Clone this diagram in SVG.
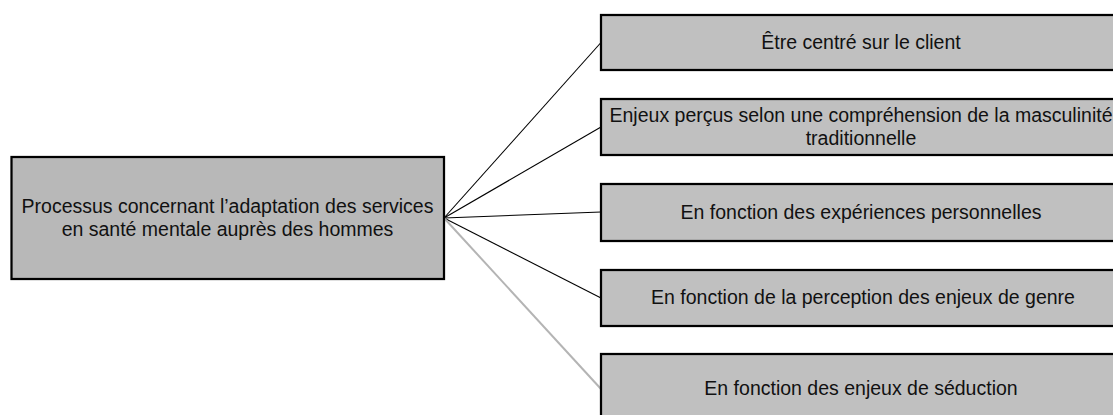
<svg xmlns="http://www.w3.org/2000/svg" width="1113" height="415" viewBox="0 0 1113 415">
  <style>
    .box { stroke: #000; stroke-width: 2.25; }
    .root { fill: #b8b8b8; }
    .leaf { fill: #c0c0c0; }
    .lbl { font-family: "Liberation Sans", Arial, sans-serif; font-size: 19.5px; fill: #111; text-anchor: middle; }
    .link { stroke: #000; stroke-width: 1.1; fill: none; }
    .link-soft { stroke: #b4b4b4; stroke-width: 2; fill: none; }
  </style>
  <rect width="1113" height="415" fill="#fff"/>

  <!-- connectors from the central process box to each category -->
  <g id="connectors">
    <line class="link" x1="444" y1="218" x2="601" y2="42.5"/>
    <line class="link" x1="444" y1="218" x2="601" y2="127"/>
    <line class="link" x1="444" y1="218" x2="601" y2="212"/>
    <line class="link" x1="444" y1="218" x2="601" y2="298"/>
    <line class="link-soft" x1="444" y1="218" x2="601" y2="389"/>
  </g>

  <g id="process">
    <rect class="box root" x="11.5" y="157" width="432.5" height="122"/>
    <text class="lbl" x="227.5" y="213">Processus concernant l’adaptation des services</text>
    <text class="lbl" x="227.5" y="236">en santé mentale auprès des hommes</text>
  </g>

  <g id="client-centred">
    <rect class="box leaf" x="601" y="15" width="522" height="55"/>
    <text class="lbl" x="861" y="49">Être centré sur le client</text>
  </g>

  <g id="masculinity">
    <rect class="box leaf" x="601" y="99" width="522" height="56"/>
    <text class="lbl" x="861" y="122">Enjeux perçus selon une compréhension de la masculinité</text>
    <text class="lbl" x="861" y="145">traditionnelle</text>
  </g>

  <g id="experiences">
    <rect class="box leaf" x="601" y="184" width="522" height="57"/>
    <text class="lbl" x="861" y="218.5">En fonction des expériences personnelles</text>
  </g>

  <g id="gender">
    <rect class="box leaf" x="601" y="270" width="522" height="56"/>
    <text class="lbl" x="863" y="304">En fonction de la perception des enjeux de genre</text>
  </g>

  <g id="seduction">
    <rect class="box leaf" x="601" y="354" width="522" height="72"/>
    <text class="lbl" x="861" y="395">En fonction des enjeux de séduction</text>
  </g>
</svg>
